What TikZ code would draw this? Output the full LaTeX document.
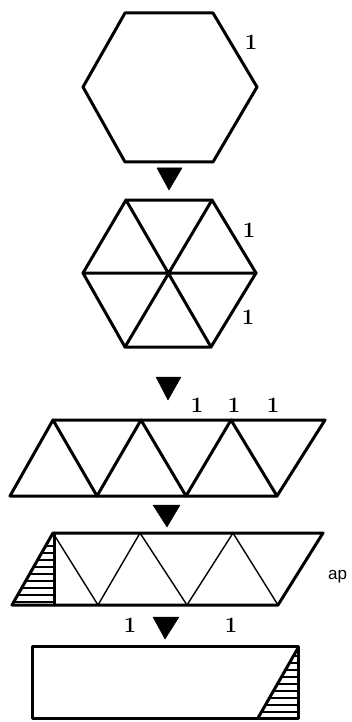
\documentclass[tikz,border=0pt]{standalone}
\usepackage{fontspec}
\newfontfamily\apfont{Liberation Sans}
\begin{document}
\begin{tikzpicture}[x=1pt,y=-1pt,
  thickline/.style={line width=3pt,line join=round,line cap=round},
  thinline/.style={line width=1.4pt,line cap=round},
  hatch/.style={line width=1.7pt},
  stepmark/.style={fill=black,draw=black,line width=0.5pt,line join=round},
  lbl/.style={font=\fontsize{22}{26}\selectfont\bfseries,inner sep=0pt},
  aplbl/.style={font=\apfont\fontsize{17}{19}\selectfont,inner sep=0pt,anchor=base west}]
\useasboundingbox (0,0) rectangle (351,722);
% hexagon 1
\coordinate (h1a) at (125,13); \coordinate (h1b) at (213,13);
\coordinate (h1c) at (257,87); \coordinate (h1d) at (213,162);
\coordinate (h1e) at (125,162); \coordinate (h1f) at (83,87);
\draw[thickline] (h1a)--(h1b)--(h1c)--(h1d)--(h1e)--(h1f)--cycle;
\node[lbl] (l1) at (251,42) {1};
% arrow 1
\filldraw[stepmark] (157,168)--(182,168)--(169,190)--cycle;
% hexagon 2
\coordinate (h2a) at (126,200); \coordinate (h2b) at (212,200);
\coordinate (h2c) at (256,273); \coordinate (h2d) at (211,347);
\coordinate (h2e) at (125,347); \coordinate (h2f) at (83,273);
\draw[thickline] (h2a)--(h2b)--(h2c)--(h2d)--(h2e)--(h2f)--cycle;
\draw[thickline] (h2a)--(h2d) (h2b)--(h2e) (h2c)--(h2f);
\node[lbl] (l2) at (249,230) {1};
\node[lbl] (l3) at (248,317) {1};
% arrow 2
\filldraw[stepmark] (156,377)--(181,377)--(168,400)--cycle;
\node[lbl] (l4) at (197,405) {1};
\node[lbl] (l5) at (234,405) {1};
\node[lbl] (l6) at (273,405) {1};
% parallelogram 3
\coordinate (t0) at (53,420); \coordinate (t1) at (141,420);
\coordinate (t2) at (231,420); \coordinate (t3) at (325,420);
\coordinate (b0) at (10,496); \coordinate (b1) at (97,496);
\coordinate (b2) at (186,496); \coordinate (b3) at (277,496);
\draw[thickline] (t0)--(t3)--(b3)--(b0)--cycle;
\draw[thickline] (t0)--(b1)--(t1)--(b2)--(t2)--(b3);
% arrow 3
\filldraw[stepmark] (153,505)--(180,505)--(167,527)--cycle;
% parallelogram 4
\coordinate (u0) at (53,533); \coordinate (u1) at (140,533);
\coordinate (u2) at (233,533); \coordinate (u3) at (323,533);
\coordinate (v0) at (12,605); \coordinate (vm) at (54,605);
\coordinate (v1) at (98,605); \coordinate (v2) at (187,605);
\coordinate (v3) at (278,605);
\begin{scope}
\clip (v0)--(u0)--(54,533)--(vm)--cycle;
\foreach \yy in {546,553,...,603} {\draw[hatch] (0,\yy)--(60,\yy);}
\end{scope}
\draw[thickline] (u0)--(u3)--(v3)--(v0)--cycle;
\draw[thickline] (54,533)--(vm);
\draw[thinline] (u0)--(v1)--(u1)--(v2)--(u2)--(v3);
\node[aplbl] (ap) at (328,579) {ap};
% arrow 4
\node[lbl] (l7) at (130,625) {1};
\node[lbl] (l8) at (231,625) {1};
\filldraw[stepmark] (153,617)--(179,617)--(165,639)--cycle;
% rectangle
\coordinate (r0) at (32,646); \coordinate (r1) at (298,646);
\coordinate (r2) at (298,718); \coordinate (r3) at (32,718);
\coordinate (rs) at (258,718);
\begin{scope}
\clip (298,648)--(r2)--(rs)--cycle;
\foreach \yy in {656,663,...,716} {\draw[hatch] (250,\yy)--(300,\yy);}
\end{scope}
\draw[thickline] (r0)--(r1)--(r2)--(r3)--cycle;
\draw[thickline] (rs)--(298,648);
\end{tikzpicture}
\end{document}
